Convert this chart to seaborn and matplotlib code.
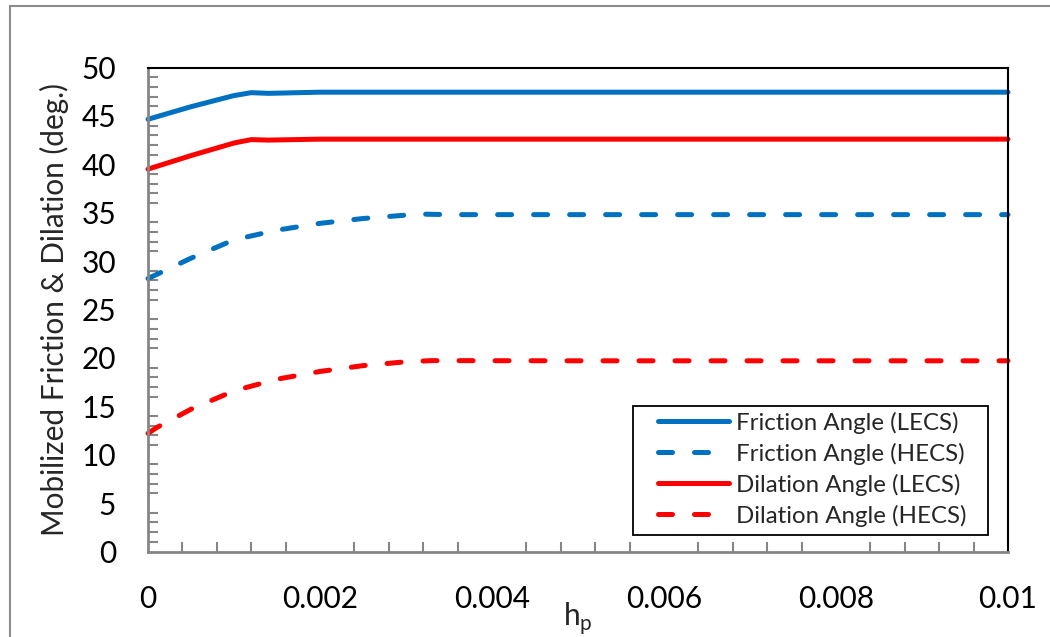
import matplotlib
matplotlib.use("Agg")
import matplotlib.pyplot as plt
from matplotlib.lines import Line2D
from matplotlib.patches import Rectangle
from matplotlib.ticker import MultipleLocator, FuncFormatter
import seaborn as sns

# Plastic strain h_p and mobilized angles (deg.)
h_fric_lecs = [0.0, 0.0005, 0.0010, 0.0012, 0.0014, 0.0020, 0.0050, 0.0100]
fric_lecs = [44.65, 45.95, 47.10, 47.40, 47.33, 47.45, 47.45, 47.45]

h_fric_hecs = [0.0, 0.0005, 0.0010, 0.0015, 0.0020, 0.0025, 0.0030, 0.0032, 0.0035, 0.0050, 0.0100]
fric_hecs = [28.2, 30.3, 32.2, 33.2, 33.9, 34.4, 34.75, 34.85, 34.8, 34.8, 34.8]

h_dil_lecs = [0.0, 0.0005, 0.0010, 0.0012, 0.0014, 0.0020, 0.0050, 0.0100]
dil_lecs = [39.5, 40.9, 42.2, 42.55, 42.5, 42.6, 42.6, 42.6]

h_dil_hecs = [0.0, 0.0001, 0.0005, 0.0010, 0.0015, 0.0020, 0.0025, 0.0030, 0.0033, 0.0050, 0.0100]
dil_hecs = [12.2, 12.8, 14.7, 16.6, 17.8, 18.6, 19.2, 19.6, 19.72, 19.7, 19.7]

labels = ["Friction Angle (LECS)", "Friction Angle (HECS)",
          "Dilation Angle (LECS)", "Dilation Angle (HECS)"]

BLUE = "#0070C0"
RED = "#FF0000"
GREY = "#868686"
DASH = (0, (2.8, 4.4))

sns.set_theme(style="white")
plt.rcParams["font.family"] = ["Lato", "DejaVu Sans"]
plt.rcParams["mathtext.fontset"] = "custom"
plt.rcParams["mathtext.rm"] = "Lato"

fig = plt.figure(figsize=(10.5, 6.37), dpi=100)
fig.patch.set_facecolor("white")
ax = fig.add_axes([148 / 1050, 1 - 551.5 / 637, 860 / 1050, 484 / 637])

series = [
    (h_fric_lecs, fric_lecs, BLUE, "-", labels[0]),
    (h_fric_hecs, fric_hecs, BLUE, DASH, labels[1]),
    (h_dil_lecs, dil_lecs, RED, "-", labels[2]),
    (h_dil_hecs, dil_hecs, RED, DASH, labels[3]),
]
for x, y, c, ls, lab in series:
    sns.lineplot(x=x, y=y, ax=ax, color=c, linewidth=3.6, linestyle=ls,
                 label=lab, sort=False, clip_on=False,
                 solid_capstyle="round", dash_capstyle="round")

ax.set_xlim(0, 0.01)
ax.set_ylim(0, 50)
ax.xaxis.set_major_locator(MultipleLocator(0.002))
ax.xaxis.set_minor_locator(MultipleLocator(0.0004))
ax.yaxis.set_major_locator(MultipleLocator(5))
ax.yaxis.set_minor_locator(MultipleLocator(1))
ax.xaxis.set_major_formatter(FuncFormatter(lambda v, p: "0" if abs(v) < 1e-12 else f"{v:g}"))

ax.tick_params(axis="both", which="major", direction="out", length=8, width=1.5,
               color=GREY, labelsize=21.5, labelcolor="black")
ax.tick_params(axis="y", which="major", pad=15)
ax.tick_params(axis="x", which="major", pad=16)
ax.tick_params(axis="both", which="minor", direction="in", length=7, width=1.5,
               color=GREY)
ax.tick_params(axis="x", which="minor", bottom=True)
ax.tick_params(axis="y", which="minor", left=True)

for side in ("left", "bottom"):
    ax.spines[side].set_color(GREY)
    ax.spines[side].set_linewidth(2.0)
for side in ("top", "right"):
    ax.spines[side].set_color("black")
    ax.spines[side].set_linewidth(1.5)

ax.set_xlabel(r"h$_\mathregular{p}$", fontsize=21.5, labelpad=-9)
ax.set_ylabel("Mobilized Friction & Dilation (deg.)", fontsize=21.4, labelpad=9)

# legend box with its own frame
ax.add_patch(Rectangle((0.564, 0.034), 0.413, 0.267, transform=ax.transAxes,
                       facecolor="white", edgecolor="black", linewidth=1.3,
                       zorder=4, clip_on=False))
leg = ax.legend(loc="center left", bbox_to_anchor=(0.593, 0.170), fontsize=17.3,
                frameon=False, handlelength=2.95, handletextpad=0.29,
                labelspacing=0.37, borderpad=0, borderaxespad=0)
leg.set_zorder(5)
for h in leg.get_lines():
    h.set_linewidth(3.6)

# outer chart border
fig.add_artist(Line2D([10 / 1050, 10 / 1050], [0, 1 - 6 / 637], transform=fig.transFigure,
                      color="#8c8c8c", linewidth=1.5))
fig.add_artist(Line2D([10 / 1050, 1], [1 - 6 / 637, 1 - 6 / 637], transform=fig.transFigure,
                      color="#8c8c8c", linewidth=1.5))

fig.savefig("out.png", dpi=100, facecolor="white")
